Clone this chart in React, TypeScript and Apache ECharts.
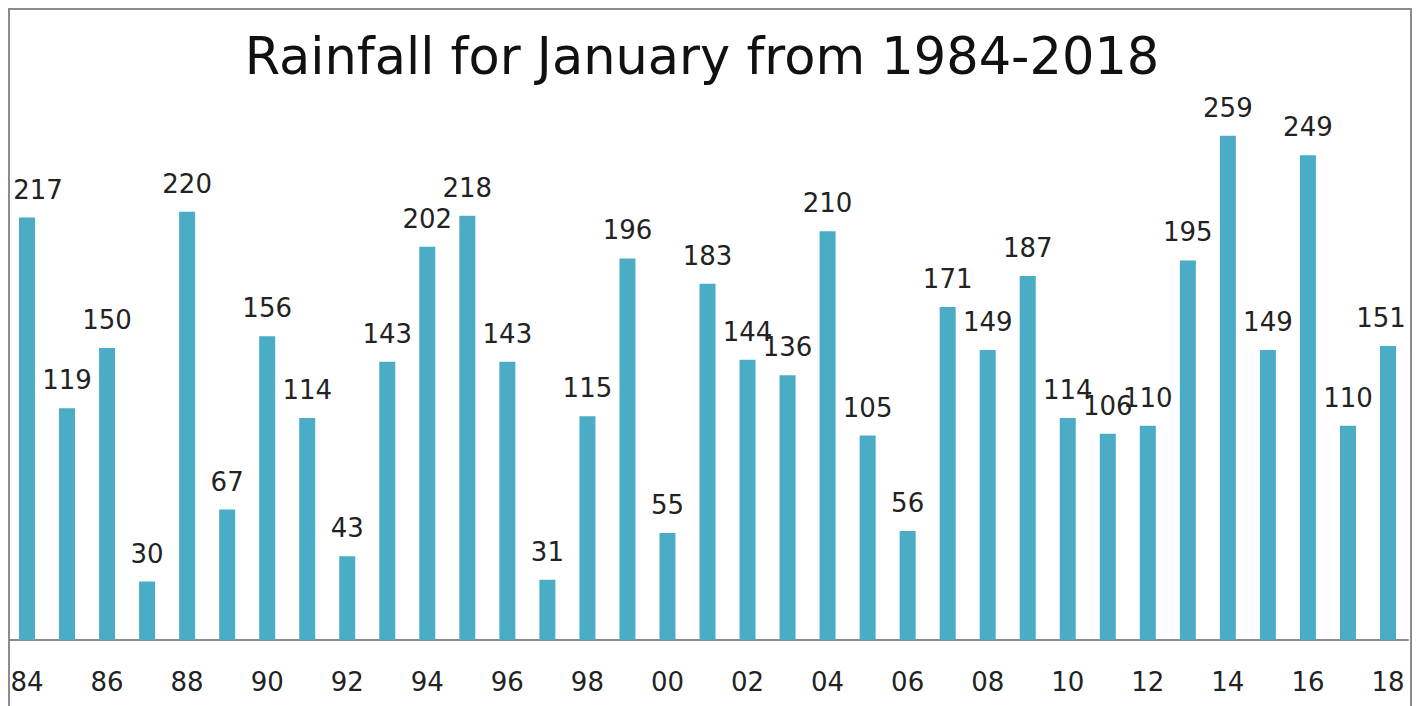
import React, { useEffect, useRef } from "react";
import * as echarts from "echarts";

const years = [
  "84", "85", "86", "87", "88", "89", "90", "91", "92", "93", "94", "95",
  "96", "97", "98", "99", "00", "01", "02", "03", "04", "05", "06", "07",
  "08", "09", "10", "11", "12", "13", "14", "15", "16", "17", "18",
];
const rainfall = [
  217, 119, 150, 30, 220, 67, 156, 114, 43, 143, 202, 218,
  143, 31, 115, 196, 55, 183, 144, 136, 210, 105, 56, 171,
  149, 187, 114, 106, 110, 195, 259, 149, 249, 110, 151,
];
const titleText = "Rainfall for January from 1984-2018";

export default function App() {
  const ref = useRef<HTMLDivElement>(null);
  useEffect(() => {
    if (!ref.current) return;
    const chart = echarts.init(ref.current, null, { renderer: "svg" });
    const font = "DejaVu Sans";
    const data = rainfall.map((v, i) => {
      if (i === 0) return { value: v, label: { offset: [11, 0] } };
      if (i === rainfall.length - 1) return { value: v, label: { offset: [-7, 0] } };
      return v;
    });
    chart.setOption({
      animation: false,
      title: {
        text: titleText,
        left: 690,
        textAlign: "center",
        top: 16,
        textStyle: { fontFamily: font, fontSize: 51, fontWeight: "normal", color: "#111" },
      },
      grid: { left: 0, right: 5, top: 46, bottom: 64, containLabel: false },
      xAxis: {
        type: "category",
        data: years,
        axisLine: { lineStyle: { color: "#8c8c8c", width: 2 } },
        axisTick: { show: false },
        axisLabel: {
          interval: 1,
          margin: 29,
          fontFamily: font,
          fontSize: 26,
          color: "#222",
        },
      },
      yAxis: {
        type: "value",
        min: 0,
        max: 300,
        show: false,
        splitLine: { show: false },
      },
      series: [
        {
          type: "bar",
          data,
          barWidth: 16,
          itemStyle: { color: "#4BACC6" },
          label: {
            show: true,
            position: "top",
            distance: 15,
            fontFamily: font,
            fontSize: 26,
            color: "#222",
          },
        },
      ],
    });
    return () => chart.dispose();
  }, []);
  return (
    <div
      style={{
        position: "relative",
        width: 1404,
        height: 698,
        boxSizing: "border-box",
        borderTop: "2px solid #8c8c8c",
        borderLeft: "2px solid #8c8c8c",
        borderRight: "2px solid #8c8c8c",
      }}
    >
      <div
        ref={ref}
        style={{ position: "absolute", left: -3, top: 0, width: 1406, height: 694 }}
      />
    </div>
  );
}
